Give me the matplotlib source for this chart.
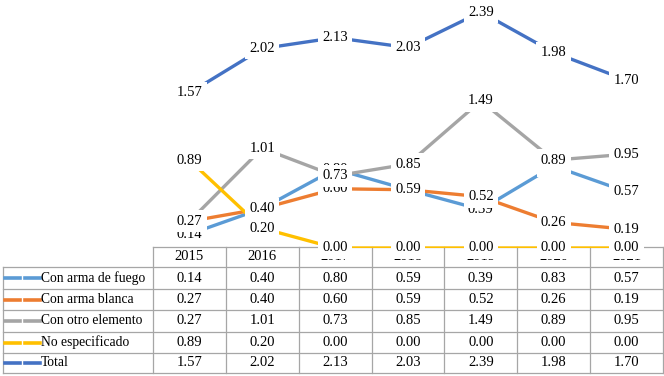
import matplotlib
matplotlib.use("Agg")
import matplotlib.pyplot as plt
from matplotlib.lines import Line2D

years = ["2015", "2016", "2017", "2018", "2019", "2020", "2021"]
series_names = ["Con arma de fuego", "Con arma blanca", "Con otro elemento",
                "No especificado", "Total"]
fuego = [0.14, 0.40, 0.80, 0.59, 0.39, 0.83, 0.57]
blanca = [0.27, 0.40, 0.60, 0.59, 0.52, 0.26, 0.19]
otro = [0.27, 1.01, 0.73, 0.85, 1.49, 0.89, 0.95]
no_esp = [0.89, 0.20, 0.00, 0.00, 0.00, 0.00, 0.00]
total = [1.57, 2.02, 2.13, 2.03, 2.39, 1.98, 1.70]
series = [fuego, blanca, otro, no_esp, total]
colors = ["#5B9BD5", "#ED7D31", "#A5A5A5", "#FFC000", "#4472C4"]

W, H = 664, 376
FONT = "Liberation Serif"
NUM_FS = 10.5
NAME_FS = 9.8
fig = plt.figure(figsize=(W / 100, H / 100), dpi=100)

def fx(px):
    return px / W

def fy(py):
    return 1 - py / H

# plot area (pixel geometry)
left, right = 153, 663
y0px, ytop_px = 248, 12
ax = fig.add_axes([fx(left), fy(y0px), (right - left) / W, (y0px - ytop_px) / H])
ax.set_xlim(-0.5, len(years) - 0.5)
ax.set_ylim(0, max(total))
ax.set_ylim(0, max(total) * 1.05)
ax.set_position([fx(left), fy(y0px), (right - left) / W,
                 (y0px - ytop_px) / H * 1.05])
ax.axis("off")
ax.patch.set_alpha(0)

xs = list(range(len(years)))
for vals, c in zip(series, colors):
    ax.plot(xs, vals, color=c, lw=2.4, solid_capstyle="butt", clip_on=True, zorder=2)

# table geometry
header_top = 247
row_lines = [267, 289, 310, 332, 353, 373]
col_w = (right - left) / len(years)
grid_c = "#A6A6A6"

def hline(x1, x2, y):
    fig.add_artist(Line2D([fx(x1), fx(x2)], [fy(y), fy(y)], color=grid_c, lw=0.9,
                          zorder=-2))

def vline(x, y1, y2):
    fig.add_artist(Line2D([fx(x), fx(x)], [fy(y1), fy(y2)], color=grid_c, lw=0.9,
                          zorder=-2))

hline(left, right, header_top)
for yl in row_lines:
    hline(3, right, yl)
vline(3, row_lines[0], row_lines[-1])
for i in range(len(years) + 1):
    vline(left + i * col_w, header_top, row_lines[-1])

# year header
for i, yr in enumerate(years):
    fig.text(fx(left + (i + 0.5) * col_w), fy(257), yr, ha="center", va="center",
             fontsize=NUM_FS, family=FONT, zorder=-1)

# rows
for r, (name, vals, c) in enumerate(zip(series_names, series, colors)):
    yc = (row_lines[r] + row_lines[r + 1]) / 2
    fig.add_artist(Line2D([fx(5), fx(20)], [fy(yc), fy(yc)], color=c, lw=2.6))
    fig.add_artist(Line2D([fx(25), fx(40)], [fy(yc), fy(yc)], color=c, lw=2.6))
    fig.text(fx(41), fy(yc), name, ha="left", va="center", fontsize=NAME_FS, family=FONT)
    for i, v in enumerate(vals):
        fig.text(fx(left + (i + 0.5) * col_w), fy(yc), f"{v:.2f}", ha="center",
                 va="center", fontsize=NUM_FS, family=FONT)

# data labels
for vals in series:
    for i, v in enumerate(vals):
        ax.text(i, v, f"{v:.2f}", ha="center", va="center", fontsize=NUM_FS,
                family=FONT, zorder=5, clip_on=False,
                bbox=dict(boxstyle="square,pad=0.3", fc="white", ec="none"))

fig.savefig("out.png", dpi=100)
